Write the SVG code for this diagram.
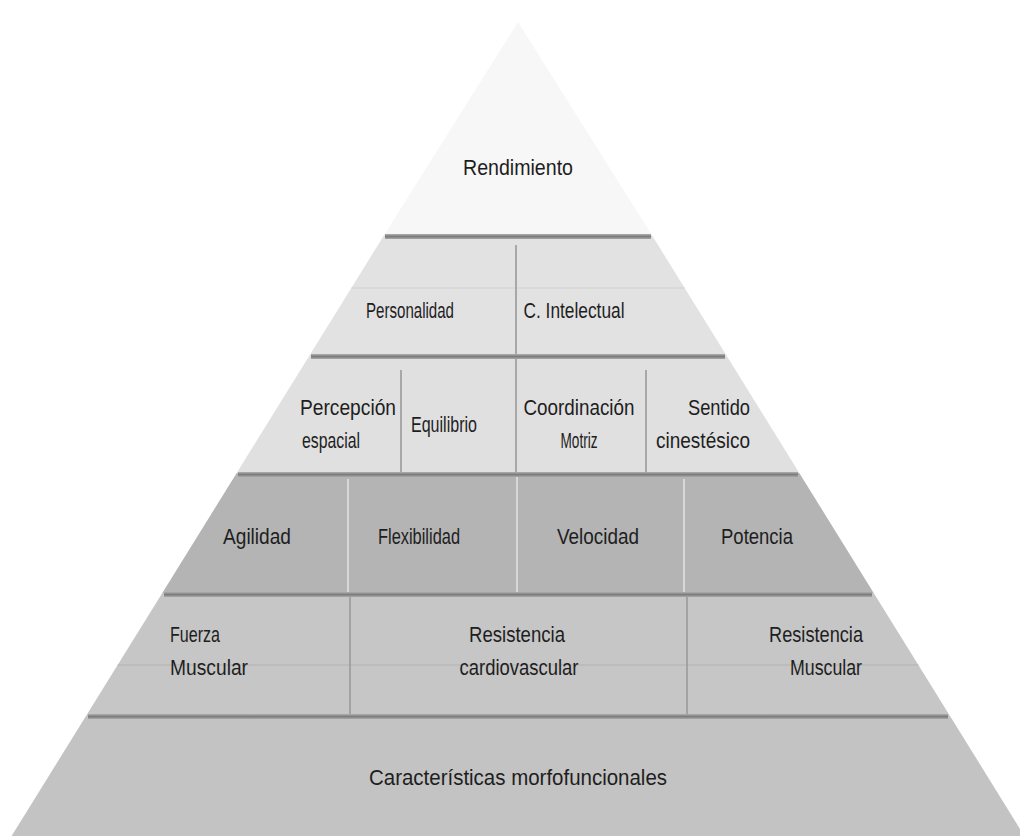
<svg xmlns="http://www.w3.org/2000/svg" width="1020" height="836" viewBox="0 0 1020 836">
  <defs>
    <linearGradient id="bevel" x1="0" y1="0" x2="0" y2="1">
      <stop offset="0" stop-color="#b0b0b0"/>
      <stop offset="0.5" stop-color="#7c7c7c"/>
      <stop offset="1" stop-color="#a8a8a8"/>
    </linearGradient>
    <style>
      .lbl { font-family: "Liberation Sans", "DejaVu Sans", sans-serif; font-size: 22px; fill: #1e1e1e; }
      .mid { text-anchor: middle; }
      .bevel { fill: url(#bevel); }
      .div-dark { stroke: #9a9a9a; stroke-width: 1.6; }
      .div-light { stroke: #dcdcdc; stroke-width: 1.8; }
      .faint { stroke-width: 1.2; }
    </style>
  </defs>

  <rect width="1020" height="836" fill="#ffffff"/>

  <!-- tier 1: apex -->
  <g id="tier-rendimiento">
    <polygon points="518,22 651.8,235 384.2,235" fill="#f7f7f7"/>
    <text class="lbl mid" x="518" y="175" textLength="110" lengthAdjust="spacingAndGlyphs">Rendimiento</text>
  </g>

  <!-- tier 2 -->
  <g id="tier-2">
    <polygon points="384.2,235 651.8,235 726.2,355 309.8,355" fill="#e2e2e2"/>
    <line class="faint" x1="351.4" y1="288" x2="684.6" y2="288" stroke="#d0d0d0"/>
    <g id="node-personalidad">
      <text class="lbl mid" x="410" y="318" textLength="88" lengthAdjust="spacingAndGlyphs">Personalidad</text>
    </g>
    <g id="node-intelectual">
      <text class="lbl mid" x="574" y="318" textLength="101" lengthAdjust="spacingAndGlyphs">C. Intelectual</text>
    </g>
  </g>

  <!-- tier 3 -->
  <g id="tier-3">
    <polygon points="309.8,355 726.2,355 799.3,473 236.7,473" fill="#e0e0e0"/>
    <g id="node-percepcion">
      <text class="lbl mid" x="348" y="415" textLength="96" lengthAdjust="spacingAndGlyphs">Percepción</text>
      <text class="lbl mid" x="331" y="448" textLength="58" lengthAdjust="spacingAndGlyphs">espacial</text>
    </g>
    <g id="node-equilibrio">
      <text class="lbl mid" x="444" y="432" textLength="66" lengthAdjust="spacingAndGlyphs">Equilibrio</text>
    </g>
    <g id="node-coordinacion">
      <text class="lbl mid" x="579" y="415" textLength="111" lengthAdjust="spacingAndGlyphs">Coordinación</text>
      <text class="lbl mid" x="579" y="448" textLength="37" lengthAdjust="spacingAndGlyphs">Motriz</text>
    </g>
    <g id="node-sentido">
      <text class="lbl mid" x="719" y="415" textLength="62" lengthAdjust="spacingAndGlyphs">Sentido</text>
      <text class="lbl mid" x="703" y="448" textLength="94" lengthAdjust="spacingAndGlyphs">cinestésico</text>
    </g>
  </g>

  <!-- tier 4 -->
  <g id="tier-4">
    <polygon points="236.7,473 799.3,473 873.7,593 162.3,593" fill="#b4b4b4"/>
    <g id="node-agilidad">
      <text class="lbl mid" x="257" y="544" textLength="68" lengthAdjust="spacingAndGlyphs">Agilidad</text>
    </g>
    <g id="node-flexibilidad">
      <text class="lbl mid" x="419" y="544" textLength="82" lengthAdjust="spacingAndGlyphs">Flexibilidad</text>
    </g>
    <g id="node-velocidad">
      <text class="lbl mid" x="598" y="544" textLength="82" lengthAdjust="spacingAndGlyphs">Velocidad</text>
    </g>
    <g id="node-potencia">
      <text class="lbl mid" x="757" y="544" textLength="72" lengthAdjust="spacingAndGlyphs">Potencia</text>
    </g>
  </g>

  <!-- tier 5 -->
  <g id="tier-5">
    <polygon points="162.3,593 873.7,593 949.4,715 86.6,715" fill="#c6c6c6"/>
    <line class="faint" x1="117.6" y1="665" x2="918.4" y2="665" stroke="#b2b2b2"/>
    <g id="node-fuerza">
      <text class="lbl" x="170" y="642" textLength="50" lengthAdjust="spacingAndGlyphs">Fuerza</text>
      <text class="lbl" x="170" y="675" textLength="78" lengthAdjust="spacingAndGlyphs">Muscular</text>
    </g>
    <g id="node-resistencia-cardio">
      <text class="lbl mid" x="517" y="642" textLength="96" lengthAdjust="spacingAndGlyphs">Resistencia</text>
      <text class="lbl mid" x="519" y="675" textLength="119" lengthAdjust="spacingAndGlyphs">cardiovascular</text>
    </g>
    <g id="node-resistencia-muscular">
      <text class="lbl mid" x="816" y="642" textLength="94" lengthAdjust="spacingAndGlyphs">Resistencia</text>
      <text class="lbl mid" x="826" y="675" textLength="72" lengthAdjust="spacingAndGlyphs">Muscular</text>
    </g>
  </g>

  <!-- tier 6: base -->
  <g id="tier-base">
    <polygon points="86.6,715 949.4,715 1024.4,836 11.6,836" fill="#c3c3c3"/>
    <text class="lbl mid" x="518" y="785" textLength="298" lengthAdjust="spacingAndGlyphs">Características morfofuncionales</text>
  </g>

  <!-- separators: bevelled tier edges and cell dividers -->
  <g id="connectors">
    <rect class="bevel" x="385" y="234" width="266" height="5"/>
    <rect class="bevel" x="311" y="354" width="414" height="5"/>
    <rect class="bevel" x="238" y="472" width="560" height="5"/>
    <rect class="bevel" x="164" y="592" width="708" height="5"/>
    <rect class="bevel" x="88" y="714" width="860" height="5"/>

    <line class="div-dark" x1="516" y1="245" x2="516" y2="354"/>

    <line class="div-dark" x1="401" y1="370" x2="401" y2="472"/>
    <line class="div-dark" x1="516" y1="359" x2="516" y2="472"/>
    <line class="div-dark" x1="646" y1="370" x2="646" y2="472"/>

    <line class="div-light" x1="348" y1="479" x2="348" y2="592"/>
    <line class="div-light" x1="517" y1="477" x2="517" y2="592"/>
    <line class="div-light" x1="684" y1="479" x2="684" y2="592"/>

    <line class="div-dark" x1="350" y1="597" x2="350" y2="714"/>
    <line class="div-dark" x1="687" y1="597" x2="687" y2="714"/>
  </g>
</svg>
